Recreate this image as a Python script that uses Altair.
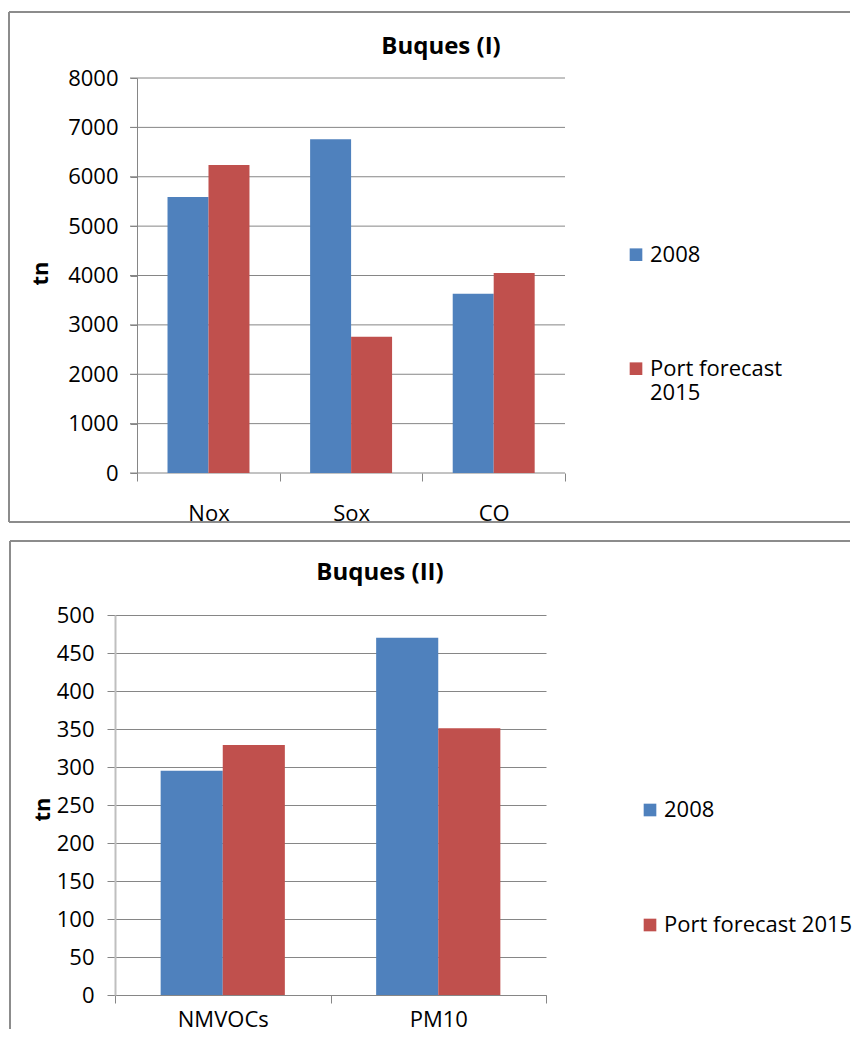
import altair as alt
import pandas as pd

FONT = "Open Sans"
GRID = "#868686"
BORDER = "#8C8C8C"

series = ["2008", "Port forecast 2015"]
colors = ["#4F81BD", "#C0504D"]

cats1 = ["Nox", "Sox", "CO"]
vals1_2008 = [5590, 6760, 3630]
vals1_2015 = [6240, 2760, 4050]
ticks1 = [0, 1000, 2000, 3000, 4000, 5000, 6000, 7000, 8000]
title1 = "Buques (I)"

cats2 = ["NMVOCs", "PM10"]
vals2_2008 = [295, 470]
vals2_2015 = [329, 351]
ticks2 = [0, 50, 100, 150, 200, 250, 300, 350, 400, 450, 500]
title2 = "Buques (II)"

ytitle = "tn"


def long_df(cats, a, b):
    rows = []
    for c, x, y in zip(cats, a, b):
        rows.append({"cat": c, "series": series[0], "value": x})
        rows.append({"cat": c, "series": series[1], "value": y})
    return pd.DataFrame(rows)


def seg(x, y, x2=None, y2=None):
    enc = {"x": alt.value(x), "y": alt.value(y)}
    if x2 is not None:
        enc["x2"] = alt.value(x2)
    if y2 is not None:
        enc["y2"] = alt.value(y2)
    return alt.Chart(pd.DataFrame({"k": [0]})).mark_rule(
        color=BORDER, strokeWidth=2).encode(**enc)


def title_mark(text, x, y):
    return alt.Chart(pd.DataFrame({"t": [text]})).mark_text(
        font=FONT, fontSize=24, fontWeight="bold", align="center",
        baseline="alphabetic", color="black"
    ).encode(text="t:N", x=alt.value(x), y=alt.value(y))


def legend(x, y, rowpad, expr=None):
    kw = dict(title=None, orient="none", legendX=x, legendY=y, rowPadding=rowpad,
              symbolType="square", symbolSize=160, symbolStrokeWidth=0,
              labelOffset=3, padding=0, labelLimit=400, labelFont=FONT,
              labelFontSize=22, labelColor="black")
    if expr:
        kw["labelExpr"] = expr
    return alt.Legend(**kw)


RIGHT = 735  # right end of the box lines, relative to the plot origin

# ---------- chart I ----------
df1 = long_df(cats1, vals1_2008, vals1_2015)
W1, H1 = 450, 395

yscale1 = alt.Scale(domain=[0, 8000], nice=False)
yaxis1 = alt.Axis(values=ticks1, format="d", offset=-22, tickSize=7, labelPadding=12,
                  grid=False, domainColor=GRID, tickColor=GRID,
                  labelFont=FONT, labelFontSize=22, labelColor="black",
                  title=ytitle, titleFont=FONT, titleFontSize=22,
                  titleFontWeight="bold", titleColor="black",
                  titleX=-97, titleY=195, titleBaseline="middle")

grid1 = alt.Chart(pd.DataFrame({"value": ticks1})).mark_rule(color=GRID, strokeWidth=1).encode(
    y=alt.Y("value:Q", scale=yscale1, axis=yaxis1),
    x=alt.value(15), x2=alt.value(W1))

bars1 = alt.Chart(df1).mark_bar().encode(
    x=alt.X("cat:N", sort=cats1,
            scale=alt.Scale(paddingInner=0, paddingOuter=0.0778, align=1),
            axis=alt.Axis(title=None, domain=False, tickBand="extent", tickSize=8,
                          tickColor=GRID, labelPadding=22, labelAngle=0,
                          labelFont=FONT, labelFontSize=22, labelColor="black", grid=False)),
    xOffset=alt.XOffset("series:N", sort=series,
                        scale=alt.Scale(paddingInner=0, paddingOuter=0.74)),
    y=alt.Y("value:Q", scale=yscale1, axis=yaxis1),
    color=alt.Color("series:N", sort=series,
                    scale=alt.Scale(domain=series, range=colors),
                    legend=legend(510, 165.7, 92,
                                  "datum.label == 'Port forecast 2015' ? ['Port forecast', '2015'] : datum.label")),
)

chart1 = alt.layer(
    grid1, bars1,
    seg(-106, -66, x2=RIGHT), seg(-106, -66, y2=444), seg(-106, 444, x2=RIGHT),
    title_mark(title1, 326, -23.7),
).properties(width=W1, height=H1)

# ---------- chart II ----------
df2 = long_df(cats2, vals2_2008, vals2_2015)
W2, H2 = 431, 380

bars2 = alt.Chart(df2).mark_bar().encode(
    x=alt.X("cat:N", sort=cats2,
            scale=alt.Scale(paddingInner=0, paddingOuter=0),
            axis=alt.Axis(title=None, domainColor=GRID, tickBand="extent", tickSize=8,
                          tickColor=GRID, labelPadding=6, labelAngle=0,
                          labelFont=FONT, labelFontSize=22, labelColor="black", grid=False)),
    xOffset=alt.XOffset("series:N", sort=series,
                        scale=alt.Scale(paddingInner=0, paddingOuter=0.735)),
    y=alt.Y("value:Q", scale=alt.Scale(domain=[0, 500], nice=False),
            axis=alt.Axis(values=ticks2, format="d", tickSize=8, labelPadding=13,
                          grid=True, gridColor=GRID, domainColor="#BFBFBF", domainWidth=2,
                          tickColor=GRID, labelFont=FONT, labelFontSize=22,
                          labelColor="black", title=ytitle, titleFont=FONT,
                          titleFontSize=22, titleFontWeight="bold", titleColor="black",
                          titleX=-73, titleY=194, titleBaseline="middle")),
    color=alt.Color("series:N", sort=series,
                    scale=alt.Scale(domain=series, range=colors),
                    legend=legend(524, 184, 93)),
)

chart2 = alt.layer(
    bars2,
    seg(-105, -74, x2=RIGHT), seg(-105, -74, y2=414),
    title_mark(title2, 265, -35),
).properties(width=W2, height=H2)

chart = alt.vconcat(chart1, chart2, spacing=16).resolve_scale(
    color="independent", xOffset="independent", x="independent", y="independent"
).resolve_legend(color="independent").properties(
    padding={"left": 0, "top": 3, "right": 0, "bottom": 0}
).configure(background="white").configure_view(stroke=None)

chart.save("out.html", embed_options={"renderer": "svg", "actions": False})
